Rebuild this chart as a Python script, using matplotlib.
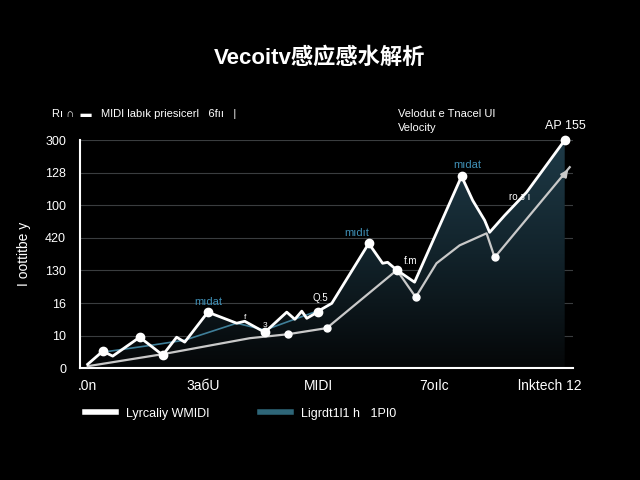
import numpy as np
import matplotlib.pyplot as plt
from matplotlib.lines import Line2D
from matplotlib.patches import Polygon

plt.rcParams['font.family'] = ['Liberation Sans', 'Noto Sans CJK SC', 'DejaVu Sans']

# data (y in grid steps, x in tick units)
vel_x = [0, 0.39, 0.65, 1.35, 1.69, 1.95, 2.31, 2.52, 3.12, 3.87, 4.08, 4.60, 5.17, 5.38,
         5.56, 5.69, 5.97, 6.03, 6.34, 7.30, 7.66, 7.79, 8.03, 8.49, 9.71, 10.0, 10.31,
         10.44, 10.83, 11.40, 12.39]
vel_y = [0.12, 0.52, 0.37, 0.95, 0.64, 0.40, 0.95, 0.80, 1.72, 1.38, 1.44, 1.10, 1.72, 1.50,
         1.75, 1.53, 1.72, 1.78, 1.99, 3.83, 3.22, 3.25, 3.01, 2.64, 5.89, 5.15, 4.54,
         4.17, 4.69, 5.40, 7.0]
vel_marks = [1, 3, 5, 8, 11, 16, 19, 22, 24, 30]

base_x = [0, 1.95, 4.21, 5.19, 6.21, 8.03, 8.52, 9.06, 9.66, 10.36, 10.57, 12.52]
base_y = [0.06, 0.43, 0.92, 1.04, 1.23, 3.01, 2.18, 3.22, 3.77, 4.14, 3.40, 6.17]
base_marks = [3, 4, 6, 10]

teal_x = [0.39, 1.69, 2.52, 3.87, 4.60, 5.51, 6.03]
teal_y = [0.49, 0.71, 0.86, 1.38, 1.17, 1.56, 1.78]

x_ticks = [0, 3, 6, 9, 12]
x_labels = ['.0n', '3aбU', 'MIDI', '7oılc', 'lnktech 12']
y_labels = ['0', '10', '16', '130', '420', '100', '128', '300']

fig = plt.figure(figsize=(6.4, 4.8), dpi=100, facecolor='black')
ax = fig.add_axes([0.125, 0.233, 0.77, 0.475], facecolor='black')
ax.set_xlim(-0.2, 12.6)
ax.set_ylim(0, 7)

# gradient fill under the velocity line
grad = np.linspace(0, 1, 256).reshape(-1, 1)
img = ax.imshow(grad, extent=[-0.2, 12.6, 0, 7], origin='lower', aspect='auto',
                cmap=plt.matplotlib.colors.LinearSegmentedColormap.from_list(
                    'g', ['#050708', '#12232b', '#1e3a47']), zorder=1)
poly = Polygon(list(zip(vel_x, vel_y)) + [(vel_x[-1], 0), (vel_x[0], 0)],
               closed=True, transform=ax.transData, facecolor='none', edgecolor='none')
ax.add_patch(poly)
img.set_clip_path(poly)

for v in range(1, 8):
    ax.axhline(v, color='#3a3d3f', lw=0.8, zorder=0.5)

ax.plot(teal_x, teal_y, color='#3f7f99', lw=1.2, zorder=2)
ax.plot(base_x, base_y, color='#c9c9c9', lw=1.6, zorder=3)
ax.plot([base_x[i] for i in base_marks], [base_y[i] for i in base_marks], 'o',
        color='white', ms=5, zorder=4)
ax.annotate('', xy=(base_x[-1], base_y[-1]), xytext=(12.3, 5.8),
            arrowprops=dict(arrowstyle='-|>', color='#c9c9c9', lw=1.6), zorder=3)
ax.plot(vel_x, vel_y, color='white', lw=2.0, zorder=5, clip_on=False)
ax.plot([vel_x[i] for i in vel_marks], [vel_y[i] for i in vel_marks], 'o',
        color='white', ms=6, zorder=6, clip_on=False)

for s in ['top', 'right']:
    ax.spines[s].set_visible(False)
for s in ['left', 'bottom']:
    ax.spines[s].set_color('white')
    ax.spines[s].set_linewidth(1.5)

ax.set_xticks(x_ticks)
ax.set_xticklabels(x_labels, color='white', fontsize=10)
ax.set_yticks(range(8))
ax.set_yticklabels(y_labels, color='white', fontsize=9)
ax.tick_params(axis='both', length=0, pad=8)
ax.tick_params(axis='y', pad=10)
ax.set_ylabel('I oottitbe y', color='white', fontsize=10, labelpad=10)

# annotations
teal_txt = '#3f8fb5'
ax.text(3.12, 1.95, 'mıdat', color=teal_txt, fontsize=8, ha='center')
ax.text(7.00, 4.05, 'mıdıt', color=teal_txt, fontsize=8, ha='center')
ax.text(9.85, 6.13, 'mıdat', color=teal_txt, fontsize=8, ha='center')
ax.text(6.03, 2.05, 'Q.5', color='white', fontsize=7, ha='center')
ax.text(8.20, 3.20, 'f.m', color='white', fontsize=7, ha='left')
ax.text(10.95, 5.15, 'ro з ı', color='white', fontsize=7, ha='left')
ax.text(4.05, 1.50, 'f', color='white', fontsize=6, ha='left')
ax.text(4.60, 1.25, '3', color='white', fontsize=6, ha='center')
ax.text(12.4, 7.35, 'AP 155', color='white', fontsize=9, ha='center')

fig.text(0.5, 0.878, 'Vecoitv感应感水解析', color='white', fontsize=16,
         fontweight='bold', ha='center', va='center')
fig.text(0.082, 0.762, 'Rı ∩  ▬   MIDI labık priesicerl   6fıı   |', color='white',
         fontsize=8, ha='left', va='center')
fig.text(0.622, 0.762, 'Velodut e Tnacel UI', color='white', fontsize=8, ha='left', va='center')
fig.text(0.622, 0.733, 'Velocity', color='white', fontsize=8, ha='left', va='center')

handles = [Line2D([0], [0], color='white', lw=4), Line2D([0], [0], color='#2e6678', lw=4)]
leg = fig.legend(handles, ['Lyrcaliy WMIDI', 'Ligrdt1l1 h   1PI0'], loc='center left',
                 bbox_to_anchor=(0.115, 0.138), ncol=2, frameon=False, fontsize=9,
                 handlelength=2.5, columnspacing=4)
for t in leg.get_texts():
    t.set_color('white')

fig.savefig('out.png', dpi=100, facecolor='black')
